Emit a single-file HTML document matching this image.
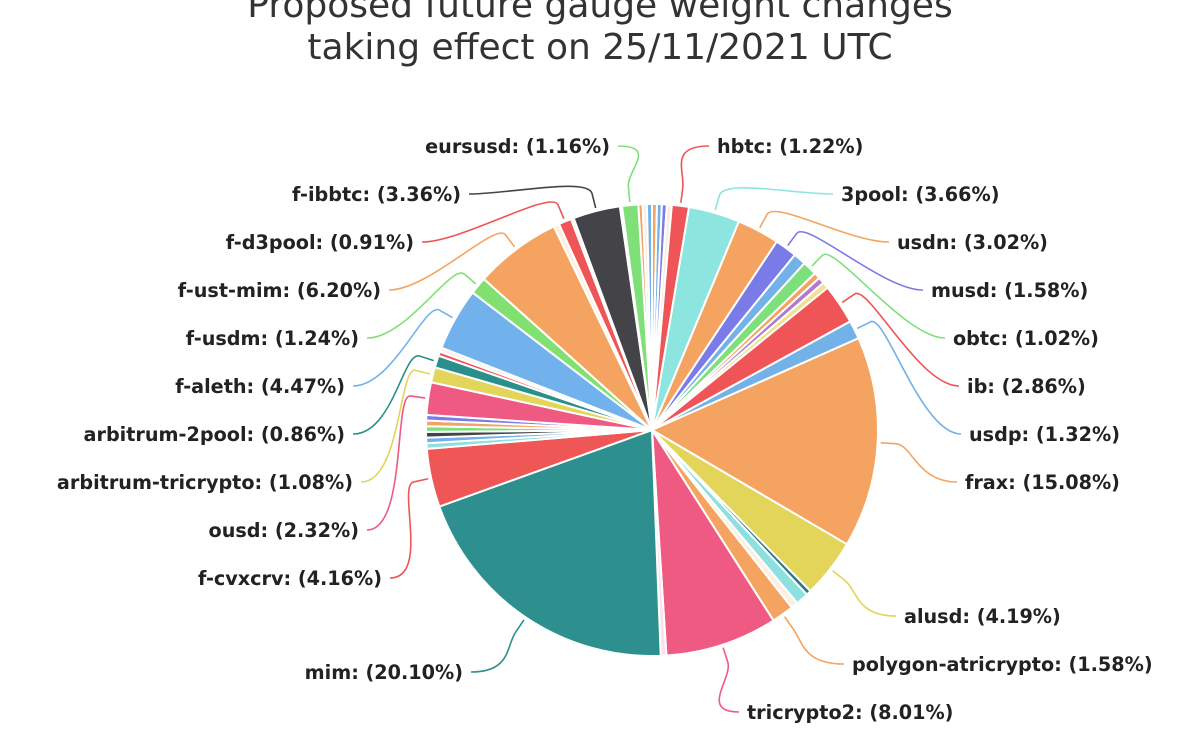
<!DOCTYPE html>
<html><head><meta charset="utf-8"><style>
body{margin:0;background:#fff;width:1200px;height:740px;overflow:hidden}
svg text{font-family:"DejaVu Sans","Liberation Sans",sans-serif}
</style></head><body>
<svg id="s" width="1200" height="740" xmlns="http://www.w3.org/2000/svg">
<text x="600" y="17" text-anchor="middle" font-size="36" fill="#333">Proposed future gauge weight changes</text>
<text x="600" y="59" text-anchor="middle" font-size="36" fill="#333">taking effect on 25/11/2021 UTC</text>
<g id="pie"></g><g id="lines" fill="none" stroke-width="1.6"></g>
<g id="labels" font-size="19.2" font-weight="bold" fill="#222"></g>
</svg>
<script>
var cx=652,cy=430,R=226;
var D=[
[0.35,'#f4a460'],[0.35,'#72b2e8'],[0.35,'#7b7be8'],[0.35,'#fbeee0'],
[1.22,'#ef5456','hbtc: (1.22%)',717,146],
[3.66,'#8de5e0','3pool: (3.66%)',841,194],
[3.02,'#f4a460','usdn: (3.02%)',897,242],
[1.58,'#7b7be8','musd: (1.58%)',931,290],
[0.9,'#72b2e8'],
[1.02,'#7ee07a','obtc: (1.02%)',953,338],
[0.45,'#f4a460'],[0.45,'#b07ad0'],[0.45,'#f0e090'],
[2.86,'#ef5456','ib: (2.86%)',967,386],
[1.32,'#72b2e8','usdp: (1.32%)',969,434],
[15.08,'#f4a460','frax: (15.08%)',965,482],
[4.19,'#e3d45a','alusd: (4.19%)',904,616],
[0.35,'#2a7a8a'],[0.9,'#8ee0e0'],[0.5,'#fdf0e0'],
[1.58,'#f4a460','polygon-atricrypto: (1.58%)',852,664],
[8.01,'#ef5a82','tricrypto2: (8.01%)',747,712],
[0.4,'#fde0e8'],
[20.10,'#2e8f8f','mim: (20.10%)',-463,672],
[4.16,'#ef5656','f-cvxcrv: (4.16%)',-382,578],
[0.4,'#8ee0e0'],[0.4,'#72b2e8'],[0.4,'#444448'],[0.4,'#7ee07a'],[0.4,'#f4a460'],[0.4,'#7b7be8'],
[2.32,'#ef5a82','ousd: (2.32%)',-359,530],
[1.08,'#e3d45a','arbitrum-tricrypto: (1.08%)',-353,482],
[0.86,'#2a8f8a','arbitrum-2pool: (0.86%)',-345,434],
[0.3,'#ef5456'],[0.3,'#fdf0f0'],
[4.47,'#72b2ec','f-aleth: (4.47%)',-345,386],
[1.24,'#80e070','f-usdm: (1.24%)',-359,338],
[6.20,'#f4a460','f-ust-mim: (6.20%)',-381,290],
[0.4,'#fdf0e0'],
[0.91,'#ef5456','f-d3pool: (0.91%)',-414,242],
[0.2,'#fdf0f0'],
[3.36,'#444448','f-ibbtc: (3.36%)',-461,194],
[0.15,'#ffffff'],
[1.16,'#7fe07a','eursusd: (1.16%)',-610,146],
[0.3,'#f4a460'],[0.3,'#fbeee0'],[0.36,'#72b2e8']];
var tot=0;D.forEach(d=>tot+=d[0]);
function pt(a,r){return [cx+r*Math.sin(a),cy-r*Math.cos(a)];}
var pie='',ln='',lb='',acc=0;
D.forEach(d=>{
 var a0=acc/tot*2*Math.PI;acc+=d[0];var a1=acc/tot*2*Math.PI;
 var p0=pt(a0,R),p1=pt(a1,R),lg=(a1-a0)>Math.PI?1:0;
 pie+='<path d="M'+cx+','+cy+'L'+p0+'A'+R+','+R+' 0 '+lg+' 1 '+p1+'Z" fill="'+d[1]+'" stroke="#fff" stroke-width="2" stroke-linejoin="round"/>';
 if(d[2]){
  var am=(a0+a1)/2,s=pt(am,R+3),m=pt(am,R+18),c=pt(am,R+35);
  var right=d[3]>0,x=Math.abs(d[3]),y=d[4];
  var ex=right?x-8:x+8;
  ln+='<path stroke="'+d[1]+'" d="M'+s+'L'+m+'C'+c+' '+(right?ex-40:ex+40)+','+y+' '+ex+','+y+'"/>';
  lb+='<text x="'+x+'" y="'+(d[4]+7)+'" text-anchor="'+(right?'start':'end')+'">'+d[2]+'</text>';
 }
});
document.getElementById('pie').innerHTML=pie;
document.getElementById('lines').innerHTML=ln;
document.getElementById('labels').innerHTML=lb;
</script>
</body></html>
